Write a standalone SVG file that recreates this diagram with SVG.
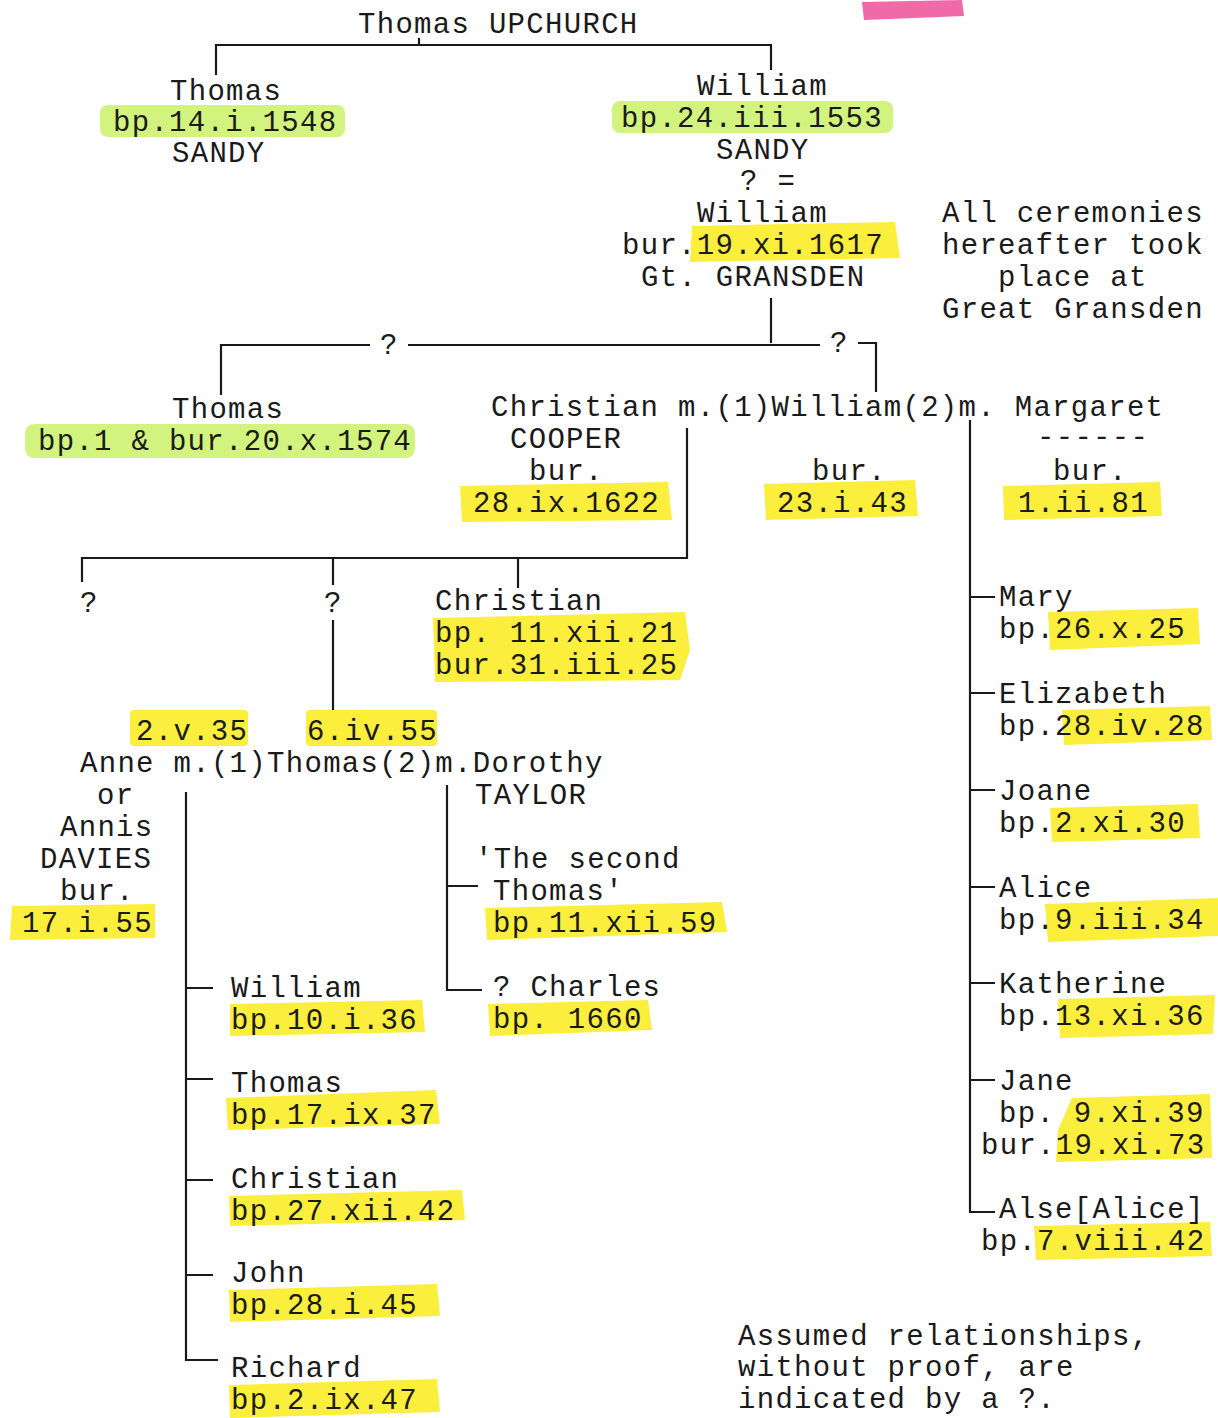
<svg xmlns="http://www.w3.org/2000/svg" width="1218" height="1418" viewBox="0 0 1218 1418">
<style>
text{font-family:"Liberation Mono","Courier New",monospace;font-size:29px;letter-spacing:1.3px;fill:#1a1a1a}
.g{fill:#d2f37e}
.y{fill:#fbee3c}
.c{fill:none;stroke:#1a1a1a;stroke-width:2.2}
</style>
<rect width="1218" height="1418" fill="#fff"/>
<path d="M862 2 L962 0 L964 16 L864 20 Z" fill="#f06aa8"/>
<g id="connectors" class="c">
<path d="M419 38 V45 M216 75 V45 H771 V70"/>
<path d="M771 298 V343 M221 395 V345 H370 M408 345 H820 M858 343 H876 V392"/>
<path d="M687 428 V558 H82 V582 M333 558 V585 M518 558 V588"/>
<path d="M333 620 V722"/>
<path d="M186 792 V1360 H218 M186 988 H213 M186 1079 H213 M186 1180 H213 M186 1275 H213"/>
<path d="M447 785 V990 H482 M447 886 H478"/>
<path d="M970 420 V1212 H995 M970 597 H995 M970 693 H995 M970 790 H995 M970 887 H995 M970 983 H995 M970 1080 H995"/>
</g>
<text x="380" y="354">?</text>
<text x="830" y="352">?</text>
<text x="80" y="612">?</text>
<text x="324" y="612">?</text>
<g id="thomas-upchurch"><text x="358" y="33">Thomas UPCHURCH</text></g>
<g id="thomas-1548">
<rect class="g" x="100" y="105" width="245" height="32" rx="8"/>
<text x="170" y="100">Thomas</text>
<text x="113" y="131">bp.14.i.1548</text>
<text x="172" y="162">SANDY</text>
</g>
<g id="william-1553">
<rect class="g" x="612" y="101" width="281" height="32" rx="8"/>
<text x="697" y="95">William</text>
<text x="621" y="127">bp.24.iii.1553</text>
<text x="716" y="159">SANDY</text>
<text x="740" y="190">? =</text>
</g>
<g id="william-1617">
<path class="y" d="M692 226 L895 222 L900 258 L690 262 Z"/>
<text x="697" y="222">William</text>
<text x="622" y="254">bur.19.xi.1617</text>
<text x="641" y="286">Gt. GRANSDEN</text>
</g>
<g id="note-ceremonies">
<text x="942" y="222">All ceremonies</text>
<text x="942" y="254">hereafter took</text>
<text x="998" y="286">place at</text>
<text x="942" y="318">Great Gransden</text>
</g>
<g id="thomas-1574">
<rect class="g" x="25" y="424" width="390" height="34" rx="9"/>
<text x="172" y="418">Thomas</text>
<text x="38" y="450">bp.1 &amp; bur.20.x.1574</text>
</g>
<g id="william-marriages"><text x="491" y="416">Christian m.(1)William(2)m. Margaret</text></g>
<g id="christian-cooper">
<path class="y" d="M460 486 L668 482 L672 520 L462 522 Z"/>
<text x="510" y="448">COOPER</text>
<text x="529" y="480">bur.</text>
<text x="473" y="512">28.ix.1622</text>
</g>
<g id="william-bur">
<path class="y" d="M764 484 L915 480 L918 516 L766 520 Z"/>
<text x="812" y="480">bur.</text>
<text x="777" y="512">23.i.43</text>
</g>
<g id="margaret">
<path class="y" d="M1003 486 L1160 482 L1162 516 L1004 520 Z"/>
<text x="1037" y="446">------</text>
<text x="1053" y="480">bur.</text>
<text x="1018" y="512">1.ii.81</text>
</g>
<g id="christian-1621">
<path class="y" d="M433 618 L685 612 L690 650 L680 680 L435 682 Z"/>
<text x="435" y="610">Christian</text>
<text x="435" y="642">bp. 11.xii.21</text>
<text x="435" y="674">bur.31.iii.25</text>
</g>
<g id="thomas-marriages">
<rect class="y" x="130" y="710" width="118" height="36" rx="4"/>
<rect class="y" x="306" y="710" width="131" height="36" rx="4"/>
<text x="136" y="740">2.v.35</text>
<text x="307" y="740">6.iv.55</text>
<text x="80" y="772">Anne m.(1)Thomas(2)m.Dorothy</text>
</g>
<g id="anne-davies">
<path class="y" d="M12 906 L155 904 L155 938 L10 940 Z"/>
<text x="97" y="804">or</text>
<text x="60" y="836">Annis</text>
<text x="40" y="868">DAVIES</text>
<text x="60" y="900">bur.</text>
<text x="22" y="932">17.i.55</text>
</g>
<g id="dorothy-taylor"><text x="475" y="804">TAYLOR</text></g>
<g id="second-thomas">
<path class="y" d="M485 908 L722 902 L727 932 L487 940 Z"/>
<text x="475" y="868">'The second</text>
<text x="493" y="900">Thomas'</text>
<text x="493" y="932">bp.11.xii.59</text>
</g>
<g id="charles">
<path class="y" d="M488 1004 L648 1000 L652 1030 L490 1036 Z"/>
<text x="493" y="996">? Charles</text>
<text x="493" y="1028">bp. 1660</text>
</g>
<g id="william-1636">
<path class="y" d="M230 1004 L422 1000 L425 1032 L230 1036 Z"/>
<text x="231" y="997">William</text>
<text x="231" y="1029">bp.10.i.36</text>
</g>
<g id="thomas-1637">
<path class="y" d="M226 1098 L436 1090 L440 1124 L228 1130 Z"/>
<text x="231" y="1092">Thomas</text>
<text x="231" y="1124">bp.17.ix.37</text>
</g>
<g id="christian-1642">
<path class="y" d="M229 1196 L462 1190 L465 1220 L230 1226 Z"/>
<text x="231" y="1188">Christian</text>
<text x="231" y="1220">bp.27.xii.42</text>
</g>
<g id="john-1645">
<path class="y" d="M229 1290 L437 1284 L440 1316 L230 1322 Z"/>
<text x="231" y="1282">John</text>
<text x="231" y="1314">bp.28.i.45</text>
</g>
<g id="richard-1647">
<path class="y" d="M229 1385 L437 1379 L440 1412 L230 1418 Z"/>
<text x="231" y="1377">Richard</text>
<text x="231" y="1409">bp.2.ix.47</text>
</g>
<g id="mary">
<path class="y" d="M1048 612 L1198 608 L1200 644 L1050 650 Z"/>
<text x="999" y="606">Mary</text>
<text x="999" y="638">bp.26.x.25</text>
</g>
<g id="elizabeth">
<path class="y" d="M1062 710 L1210 706 L1212 740 L1064 745 Z"/>
<text x="999" y="703">Elizabeth</text>
<text x="999" y="735">bp.28.iv.28</text>
</g>
<g id="joane">
<path class="y" d="M1050 808 L1198 804 L1200 838 L1052 842 Z"/>
<text x="999" y="800">Joane</text>
<text x="999" y="832">bp.2.xi.30</text>
</g>
<g id="alice">
<path class="y" d="M1045 904 L1218 898 L1218 936 L1048 942 Z"/>
<text x="999" y="897">Alice</text>
<text x="999" y="929">bp.9.iii.34</text>
</g>
<g id="katherine">
<path class="y" d="M1058 999 L1215 995 L1213 1034 L1060 1038 Z"/>
<text x="999" y="993">Katherine</text>
<text x="999" y="1025">bp.13.xi.36</text>
</g>
<g id="jane">
<path class="y" d="M1072 1098 L1210 1094 L1212 1158 L1056 1162 L1058 1130 Z"/>
<text x="999" y="1090">Jane</text>
<text x="999" y="1122">bp. 9.xi.39</text>
<text x="981" y="1154">bur.19.xi.73</text>
</g>
<g id="alse">
<path class="y" d="M1034 1226 L1210 1222 L1212 1256 L1036 1260 Z"/>
<text x="999" y="1218">Alse[Alice]</text>
<text x="981" y="1250">bp.7.viii.42</text>
</g>
<g id="note-assumed">
<text x="738" y="1345">Assumed relationships,</text>
<text x="738" y="1376">without proof, are</text>
<text x="738" y="1408">indicated by a ?.</text>
</g>
</svg>
